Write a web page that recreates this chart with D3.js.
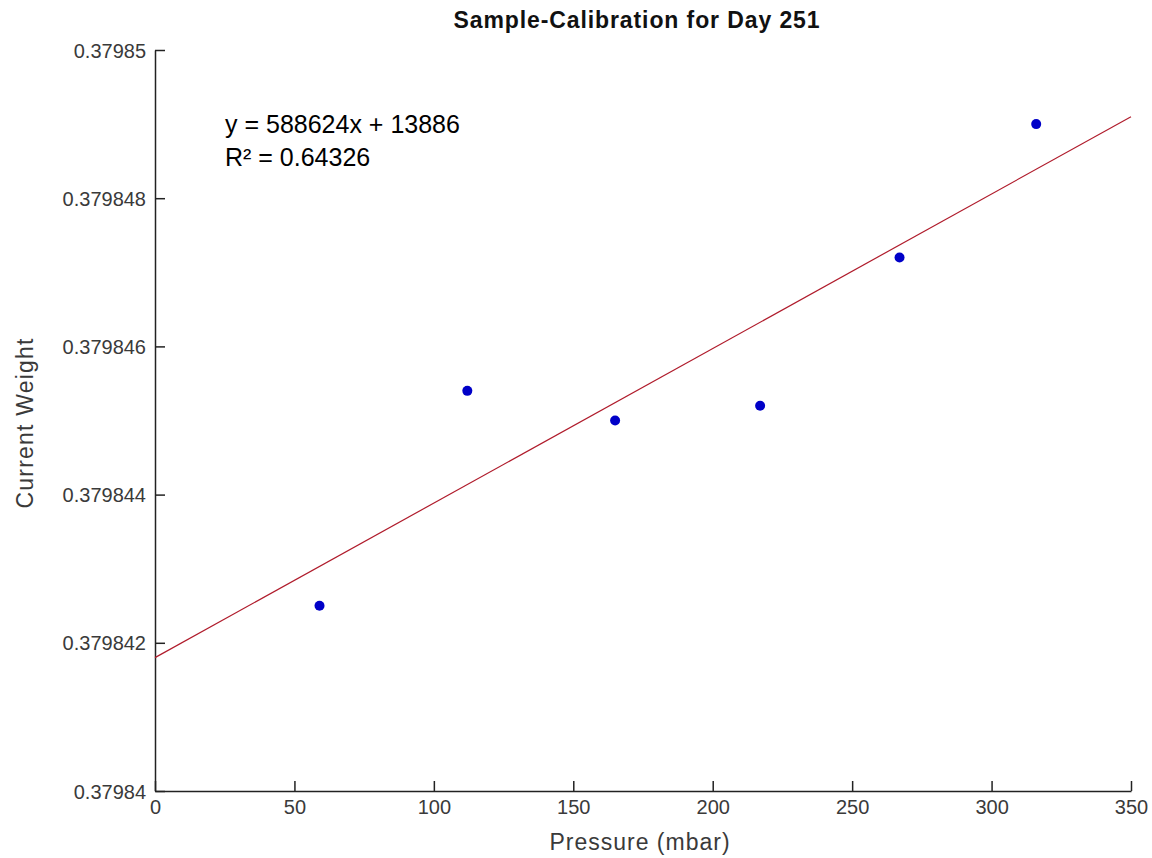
<!DOCTYPE html>
<html>
<head>
<meta charset="utf-8">
<script src="https://cdn.jsdelivr.net/npm/d3@7"></script>
<style>
  body { margin: 0; background: #fff; }
  svg { display: block; }
</style>
</head>
<body>
<div id="chart"></div>
<script>
// data
const pressure = [59, 112, 165, 217, 267, 316];
const weight = [0.3798425, 0.3798454, 0.3798450, 0.3798452, 0.3798472, 0.3798490];
const fitX = [0, 350];
const fitY = [0.3798418, 0.3798491];
const xTicks = [0, 50, 100, 150, 200, 250, 300, 350];
const yTicks = [0.37984, 0.379842, 0.379844, 0.379846, 0.379848, 0.37985];
const yTickLabels = ['0.37984', '0.379842', '0.379844', '0.379846', '0.379848', '0.37985'];
const eqLines = ['y = 588624x + 13886', 'R\u00b2 = 0.64326'];

const width = 1152, height = 858;
const margin = { top: 50, right: 21, bottom: 67, left: 155 };
const innerW = width - margin.left - margin.right;
const innerH = height - margin.top - margin.bottom;

const svg = d3.select('#chart').append('svg')
    .attr('width', width)
    .attr('height', height);

const g = svg.append('g').attr('transform', `translate(${margin.left},${margin.top})`);

const x = d3.scaleLinear().domain([0, 350]).range([0, innerW]);
const y = d3.scaleLinear().domain([0.37984, 0.37985]).range([innerH, 0]);

const font = 'Liberation Sans, Arial, sans-serif';

// axes: ticks point inward like matlab
const xAxis = g.append('g')
    .attr('transform', `translate(0,${innerH})`)
    .call(d3.axisBottom(x).tickValues(xTicks).tickSize(-10).tickSizeOuter(0));

const yAxis = g.append('g')
    .call(d3.axisLeft(y).tickValues(yTicks).tickSize(-10).tickSizeOuter(0)
        .tickFormat((d, i) => yTickLabels[i]));

[xAxis, yAxis].forEach(a => {
    a.select('.domain').attr('stroke', '#222').attr('stroke-width', 1.5);
    a.selectAll('.tick line').attr('stroke', '#222').attr('stroke-width', 1.5);
    a.selectAll('.tick text')
        .style('font-family', font)
        .style('font-size', '20px')
        .attr('fill', '#3a3a3a');
});
yAxis.selectAll('.tick text').attr('x', -9).attr('dy', '0.35em');
xAxis.selectAll('.tick text').attr('y', 23).attr('dy', 0);

// fitted line
g.append('line')
    .attr('x1', x(fitX[0]))
    .attr('y1', y(fitY[0]))
    .attr('x2', x(fitX[1]))
    .attr('y2', y(fitY[1]))
    .attr('stroke', '#b01c2c')
    .attr('stroke-width', 1.2);

// measured points
g.selectAll('.pt')
    .data(pressure.map((p, i) => ({ p, w: weight[i] })))
    .enter()
    .append('circle')
    .attr('cx', d => x(d.p))
    .attr('cy', d => y(d.w))
    .attr('r', 5)
    .attr('fill', '#0000c8');

// equation text
g.selectAll('.eq')
    .data(eqLines)
    .enter()
    .append('text')
    .attr('x', 70)
    .attr('y', (d, i) => 83 + i * 33)
    .style('font-family', font)
    .style('font-size', '25px')
    .attr('fill', '#000')
    .text(d => d);

// title
svg.append('text')
    .attr('x', 637)
    .attr('y', 28)
    .attr('text-anchor', 'middle')
    .style('font-family', font)
    .style('font-size', '23px')
    .style('font-weight', '700')
    .style('letter-spacing', '0.9px')
    .attr('fill', '#111')
    .text('Sample-Calibration for Day 251');

// axis labels
svg.append('text')
    .attr('x', 640)
    .attr('y', 850)
    .attr('text-anchor', 'middle')
    .style('font-family', font)
    .style('font-size', '23px')
    .style('letter-spacing', '1px')
    .attr('fill', '#3a3a3a')
    .text('Pressure (mbar)');

svg.append('text')
    .attr('transform', `translate(33,423) rotate(-90)`)
    .attr('text-anchor', 'middle')
    .style('font-family', font)
    .style('font-size', '23px')
    .style('letter-spacing', '1.2px')
    .attr('fill', '#3a3a3a')
    .text('Current Weight');
</script>
</body>
</html>
